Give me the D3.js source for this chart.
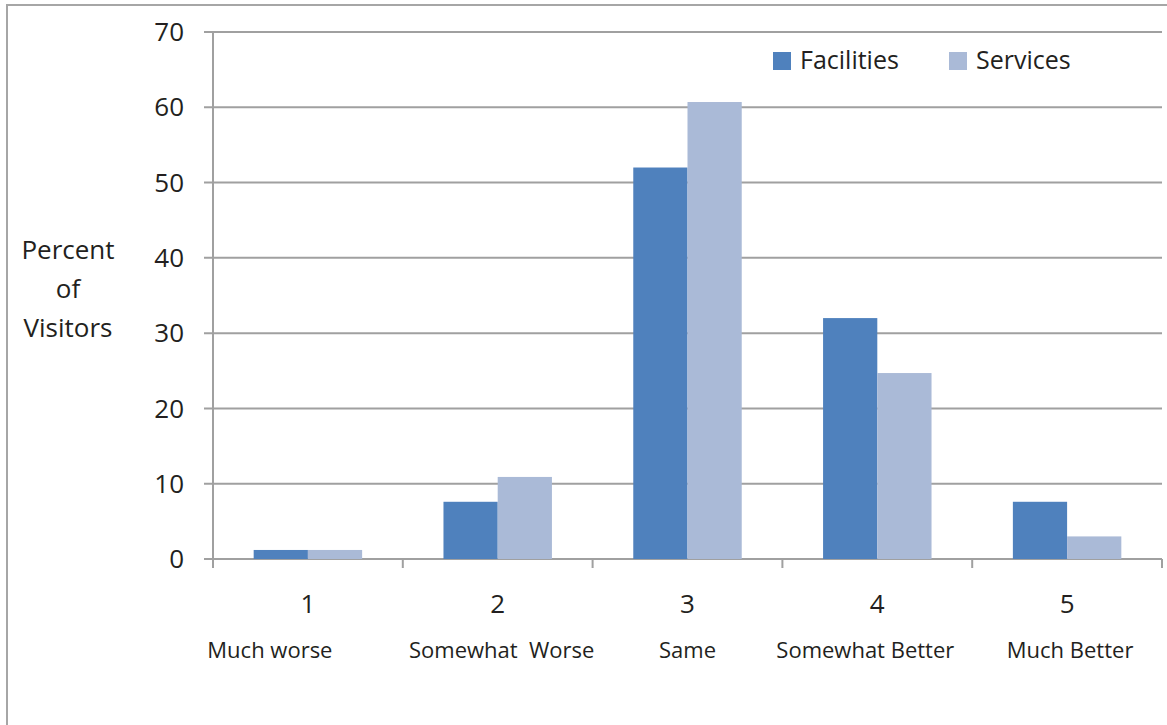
<!DOCTYPE html>
<html>
<head>
<meta charset="utf-8">
<script src="https://cdn.jsdelivr.net/npm/d3@7"></script>
<style>
  body { margin: 0; background: #fff; }
  text { font-family: "Open Sans", "Noto Sans", sans-serif; fill: #231f20; }
</style>
</head>
<body>
<div id="chart"></div>
<script>
// chart data
const categories = ['1', '2', '3', '4', '5'];
const categoryNames = ['Much worse', 'Somewhat  Worse', 'Same', 'Somewhat Better', 'Much Better'];
const seriesNames = ['Facilities', 'Services'];
const facilities = [1.2, 7.6, 52.0, 32.0, 7.6];
const services = [1.2, 10.9, 60.7, 24.7, 3.0];
const yTicks = [0, 10, 20, 30, 40, 50, 60, 70];

const width = 1167;
const height = 725;
const margin = { left: 213, right: 5, top: 32, bottom: 166 };

const svg = d3.select('#chart')
    .append('svg')
    .attr('width', width)
    .attr('height', height);

// outer frame (left + top edges only show)
svg.append('path')
    .attr('d', `M7,${height + 5} V5 H${width + 5}`)
    .attr('fill', 'none')
    .attr('stroke', '#a6a6a6')
    .attr('stroke-width', 2);

const x = d3.scaleBand()
    .domain(categories)
    .range([margin.left, width - margin.right]);

const y = d3.scaleLinear()
    .domain([0, 70])
    .range([height - margin.bottom, margin.top]);

const colors = d3.scaleOrdinal()
    .domain(seriesNames)
    .range(['#4f81bd', '#aabad7']);

// gridlines
svg.append('g')
    .selectAll('line')
    .data(yTicks)
    .enter().append('line')
    .attr('x1', margin.left - 9)
    .attr('x2', x.range()[1])
    .attr('y1', d => y(d))
    .attr('y2', d => y(d))
    .attr('stroke', '#a0a0a0')
    .attr('stroke-width', 2);

// y tick labels
svg.append('g')
    .selectAll('text')
    .data(yTicks)
    .enter().append('text')
    .attr('x', 184)
    .attr('y', d => y(d))
    .attr('dy', '0.35em')
    .attr('text-anchor', 'end')
    .style('font-size', '26px')
    .text(d => d);

// bars
const rows = categories.map((c, i) => ({ cat: c, values: [facilities[i], services[i]] }));
const inner = d3.scaleBand()
    .domain(seriesNames)
    .range([0, x.bandwidth()])
    .paddingInner(0)
    .paddingOuter(0.75);

svg.append('g')
    .selectAll('g')
    .data(rows)
    .enter().append('g')
    .attr('transform', d => `translate(${x(d.cat)},0)`)
    .selectAll('rect')
    .data(d => d.values.map((v, j) => ({ name: seriesNames[j], value: v })))
    .enter().append('rect')
    .attr('x', d => inner(d.name))
    .attr('width', inner.bandwidth())
    .attr('y', d => y(d.value))
    .attr('height', d => y(0) - y(d.value))
    .attr('fill', d => colors(d.name));

// axes lines
svg.append('line')
    .attr('x1', margin.left).attr('x2', margin.left)
    .attr('y1', y(70)).attr('y2', y(0))
    .attr('stroke', '#a0a0a0').attr('stroke-width', 2);

const xTickPos = categories.map(c => x(c)).concat([x.range()[1]]);
svg.append('g')
    .selectAll('line')
    .data(xTickPos)
    .enter().append('line')
    .attr('x1', d => d).attr('x2', d => d)
    .attr('y1', y(0)).attr('y2', y(0) + 9)
    .attr('stroke', '#a0a0a0').attr('stroke-width', 2);

// x tick numbers
svg.append('g')
    .selectAll('text')
    .data(categories)
    .enter().append('text')
    .attr('x', d => x(d) + x.bandwidth() / 2)
    .attr('y', 613)
    .attr('text-anchor', 'middle')
    .style('font-size', '26px')
    .text(d => d);

// category descriptions (hand-placed text boxes in the original)
const nameShift = [-38, 4, 0, -12, 3];
svg.append('g')
    .selectAll('text')
    .data(categoryNames)
    .enter().append('text')
    .attr('x', (d, i) => x(categories[i]) + x.bandwidth() / 2 + nameShift[i])
    .attr('y', 658)
    .attr('text-anchor', 'middle')
    .style('font-size', '22px')
    .style('white-space', 'pre')
    .text(d => d);

// y axis title
svg.append('text')
    .attr('x', 68)
    .attr('text-anchor', 'middle')
    .style('font-size', '26px')
    .selectAll('tspan')
    .data(['Percent', 'of', 'Visitors'])
    .enter().append('tspan')
    .attr('x', 68)
    .attr('y', (d, i) => 259 + i * 39)
    .text(d => d);

// legend
const legend = svg.append('g')
    .selectAll('g')
    .data(seriesNames)
    .enter().append('g')
    .attr('transform', (d, i) => `translate(${773 + i * 176}, 52)`);

legend.append('rect')
    .attr('width', 18)
    .attr('height', 18)
    .attr('fill', d => colors(d));

legend.append('text')
    .attr('x', 27)
    .attr('y', 17)
    .style('font-size', '25px')
    .text(d => d);
</script>
</body>
</html>
